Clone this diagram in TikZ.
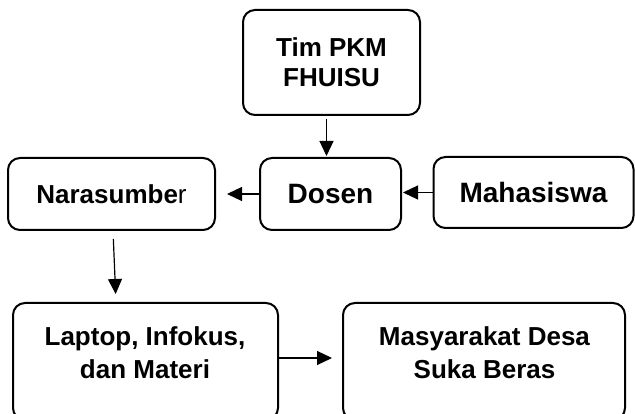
\documentclass[tikz,border=0pt]{standalone}
\usepackage{fontspec}
\setmainfont{Liberation Sans}
\usetikzlibrary{arrows.meta}
\begin{document}
\begin{tikzpicture}[x=1pt,y=-1pt,
  box/.style={draw,line width=2pt,rounded corners=12pt,inner sep=0pt},
  txt/.style={font=\bfseries\fontsize{26}{30}\selectfont,align=center},
  big/.style={font=\bfseries\fontsize{28}{32}\selectfont},
  arr/.style={line width=1.2pt,-{Triangle[length=15pt,width=14pt]}}]
\useasboundingbox (0,0) rectangle (635,414);
\clip (0,0) rectangle (635,414);
% top row
\node[box,txt,minimum width=177pt,minimum height=105pt] (tim) at (331.5,62.5) {Tim PKM\\FHUISU};
\node[box,big,minimum width=141pt,minimum height=72pt] (dosen) at (330.5,194) {Dosen};
\node[box,txt,minimum width=207pt,minimum height=72pt] (nara) at (111.5,194) {Narasumbe\mdseries r};
\node[box,big,minimum width=200pt,minimum height=71pt] (maha) at (533.5,192.5) {Mahasiswa};
% bottom row
\node[box,minimum width=265pt,minimum height=117pt] (lap) at (145.5,361.5) {};
\node[txt,font=\bfseries\fontsize{26}{33}\selectfont] (laptxt) at (145,352.5) {Laptop, Infokus,\\dan Materi};
\node[box,minimum width=282pt,minimum height=117pt] (masy) at (484,361.5) {};
\node[txt,font=\bfseries\fontsize{26}{33}\selectfont] (masytxt) at (484.5,352.5) {Masyarakat Desa\\Suka Beras};
% arrows
\draw[arr,shorten <=3pt,shorten >=1pt] ([xshift=-5pt]tim.south) -- ([xshift=-5pt]tim.south |- dosen.north);
\draw[arr,shorten >=11pt] (dosen.west) -- (dosen.west -| nara.east);
\draw[arr,shorten >=1pt] (maha.west) -- (maha.west -| dosen.east);
\draw[arr,shorten <=8pt,shorten >=8pt] ([xshift=1.5pt]nara.south) -- ([xshift=4.5pt]nara.south |- lap.north);
\draw[arr,shorten >=10pt] ([yshift=3.5pt]lap.east) -- ([yshift=3.5pt]lap.east -| masy.west);
\end{tikzpicture}
\end{document}
